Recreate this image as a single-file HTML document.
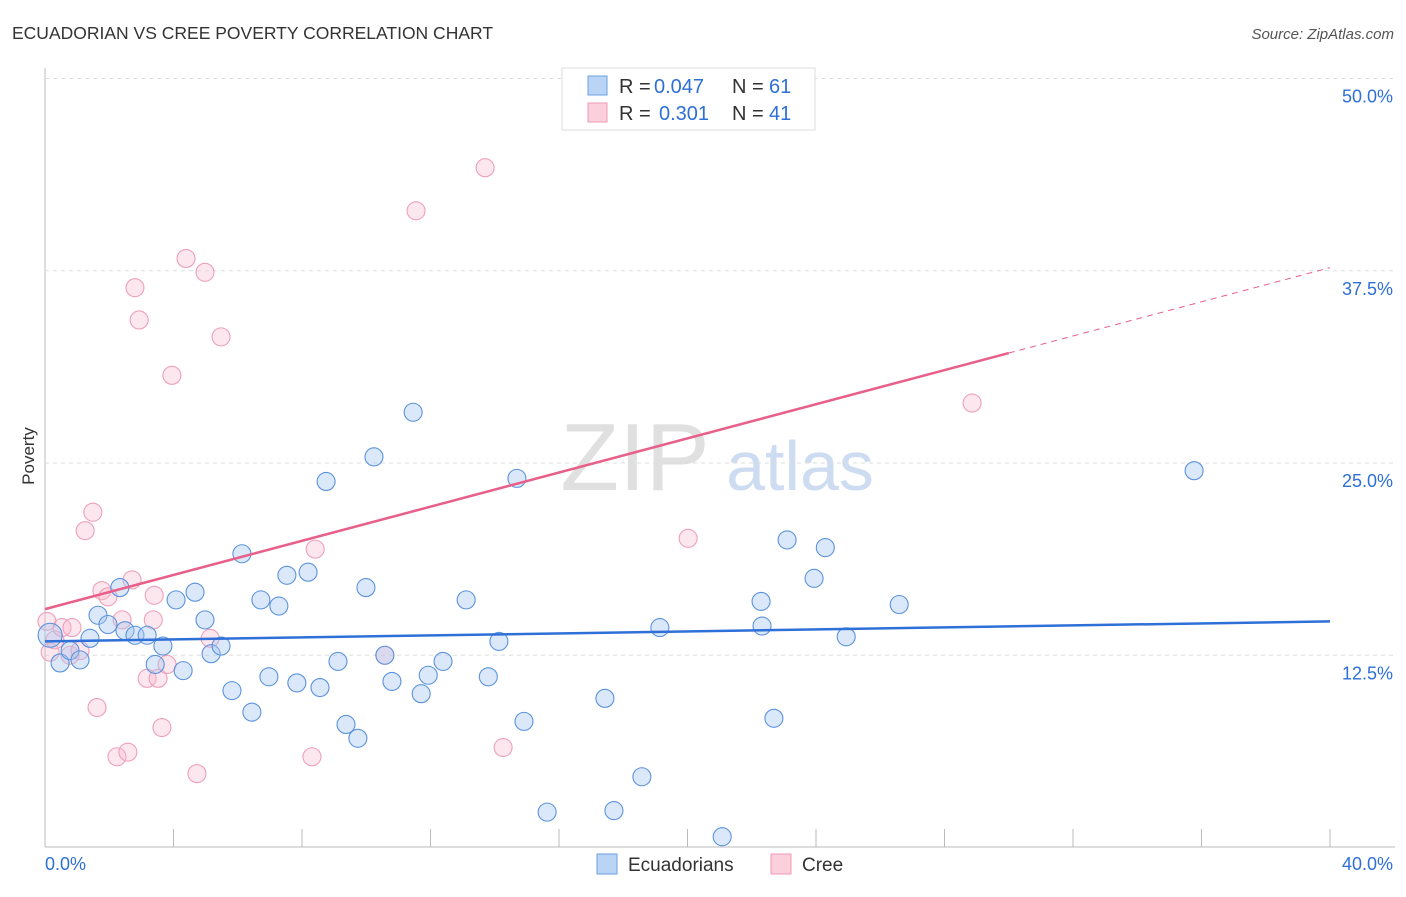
<!DOCTYPE html>
<html><head><meta charset="utf-8"><style>
body{margin:0;background:#fff;font-family:"Liberation Sans",sans-serif}
svg text{font-family:"Liberation Sans",sans-serif}
</style></head><body>
<svg id="c" width="1406" height="892">
<text x="12" y="39" font-size="17.5" fill="#333">ECUADORIAN VS CREE POVERTY CORRELATION CHART</text>
<text x="1394" y="39" font-size="15" fill="#555" font-style="italic" text-anchor="end">Source: ZipAtlas.com</text>
<text x="34" y="456" font-size="17" fill="#333" transform="rotate(-90 34 456)" text-anchor="middle">Poverty</text>
<text x="635" y="490" font-size="96" fill="#e0e0e0" font-family="Liberation Serif" text-anchor="middle">ZIP</text>
<text x="800" y="490" font-size="70" fill="#cddcf1" text-anchor="middle">atlas</text>
<g id="grid"></g><g id="pts"></g><g id="lines"></g>
<g>
<rect x="562" y="68" width="253" height="62" fill="#fff" stroke="#ddd"/>
<rect x="588" y="76" width="19" height="19" fill="#b9d4f5" stroke="#6a9fe0"/>
<rect x="588" y="103" width="19" height="19" fill="#fbd0dc" stroke="#ec9ab3"/>
<text x="619" y="93" font-size="20" fill="#333">R =</text>
<text x="654" y="93" font-size="20" fill="#2e6fd8">0.047</text>
<text x="732" y="93" font-size="20" fill="#333">N =</text>
<text x="769" y="93" font-size="20" fill="#2e6fd8">61</text>
<text x="619" y="120" font-size="20" fill="#333">R =</text>
<text x="659" y="120" font-size="20" fill="#2e6fd8">0.301</text>
<text x="732" y="120" font-size="20" fill="#333">N =</text>
<text x="769" y="120" font-size="20" fill="#2e6fd8">41</text>
</g>
<g>
<rect x="597" y="854" width="20" height="20" fill="#b9d4f5" stroke="#6a9fe0"/>
<text x="628" y="871" font-size="19" fill="#333">Ecuadorians</text>
<rect x="771" y="854" width="20" height="20" fill="#fbd0dc" stroke="#ec9ab3"/>
<text x="802" y="871" font-size="19" fill="#333">Cree</text>
</g>
</svg>
<script>
const blueX=[0.16,0.47,0.78,1.09,1.40,1.65,1.96,2.33,2.49,2.80,3.18,3.43,3.67,4.08,4.30,4.67,4.98,5.17,5.48,5.82,6.13,6.44,6.72,6.97,7.28,7.53,7.84,8.19,8.56,8.75,9.12,9.37,9.74,9.99,10.24,10.58,10.80,11.46,11.71,11.93,12.39,13.11,13.80,14.13,14.69,14.91,15.63,17.43,17.71,18.58,19.14,21.08,22.29,22.32,22.69,23.10,23.94,24.29,24.94,26.59,35.77];
const blueY=[13.8,12.0,12.8,12.2,13.6,15.1,14.5,16.9,14.1,13.8,13.8,11.9,13.1,16.1,11.5,16.6,14.8,12.6,13.1,10.2,19.1,8.8,16.1,11.1,15.7,17.7,10.7,17.9,10.4,23.8,12.1,8.0,7.1,16.9,25.4,12.5,10.8,28.3,10.0,11.2,12.1,16.1,11.1,13.4,24.0,8.2,2.3,9.7,2.4,4.6,14.3,0.7,16.0,14.4,8.4,20.0,17.5,19.5,13.7,15.8,24.5];
const pinkX=[0.06,0.16,0.31,0.53,0.78,0.84,1.09,1.25,1.49,1.62,1.77,1.96,2.24,2.40,2.58,2.71,2.80,2.93,3.18,3.37,3.40,3.52,3.64,3.80,3.95,4.39,4.73,4.98,5.14,5.48,8.31,8.41,10.58,11.55,13.70,14.26,20.02,28.86];
const pinkY=[14.7,12.7,13.5,14.3,12.5,14.3,12.8,20.6,21.8,9.1,16.7,16.3,5.9,14.8,6.2,17.4,36.4,34.3,11.0,14.8,16.4,11.0,7.8,11.9,30.7,38.3,4.8,37.4,13.6,33.2,5.9,19.4,12.5,41.4,44.2,6.5,20.1,28.9];
const yTicks=[12.5,25,37.5,50];
const xTicks=[0,4,8,12,16,20,24,28,32,36,40];
const blueLine=[13.4,14.7];
const pinkLine=[15.5,37.7];
const pinkSolidEnd=30;
const NS="http://www.w3.org/2000/svg";
const sx=v=>45+v/40*1285, sy=v=>847.5-v/50*769;
function mk(t,a,p){const e=document.createElementNS(NS,t);for(const k in a)e.setAttribute(k,a[k]);p.appendChild(e);return e;}
const g=document.getElementById('grid');
mk('line',{x1:45,y1:68,x2:45,y2:847,stroke:'#bbb'},g);
mk('line',{x1:45,y1:847,x2:1395,y2:847,stroke:'#bbb'},g);
yTicks.forEach(v=>{
 const l=mk('line',{x1:45,y1:sy(v),x2:1395,y2:sy(v),stroke:'#ddd','stroke-dasharray':'4 4'},g);
 
 
 const t=mk('text',{x:1393,y:sy(v)+24,'font-size':18,fill:'#2e6fd8','text-anchor':'end'},g);t.textContent=v.toFixed(1)+'%';
 
 
});
xTicks.forEach(v=>{mk('line',{x1:sx(v),y1:829,x2:sx(v),y2:847,stroke:'#bbb'},g);});
[[0,'start',45],[40,'end',1393]].forEach(([v,a,x])=>{const t=mk('text',{x:x,y:870,'font-size':18,fill:'#2e6fd8','text-anchor':a},g);t.textContent=v.toFixed(1)+'%';
 
 });
const P=document.getElementById('pts');
pinkX.forEach((x,i)=>{const c=mk('circle',{cx:sx(x),cy:sy(pinkY[i]),r:9,fill:'rgba(248,185,205,0.35)',stroke:'#eea0b8','stroke-width':1.1},P);
 
 });
blueX.forEach((x,i)=>{const c=mk('circle',{cx:sx(x),cy:sy(blueY[i]),r:i==0?12:9,fill:'rgba(165,198,240,0.4)',stroke:'#5b93dd','stroke-width':1.1},P);
 
 });
const L=document.getElementById('lines');
const bl=mk('line',{x1:sx(0),y1:sy(blueLine[0]),x2:sx(40),y2:sy(blueLine[1]),stroke:'#2e6fd8','stroke-width':2.5},L);


const pm=v=>pinkLine[0]+(pinkLine[1]-pinkLine[0])*v/40;
const pl=mk('line',{x1:sx(0),y1:sy(pm(0)),x2:sx(pinkSolidEnd),y2:sy(pm(pinkSolidEnd)),stroke:'#e8608a','stroke-width':2.5},L);


const pd=mk('line',{x1:sx(pinkSolidEnd),y1:sy(pm(pinkSolidEnd)),x2:sx(40),y2:sy(pm(40)),stroke:'#e8608a','stroke-width':1,'stroke-dasharray':'6 5'},L);


</script>
</body></html>
